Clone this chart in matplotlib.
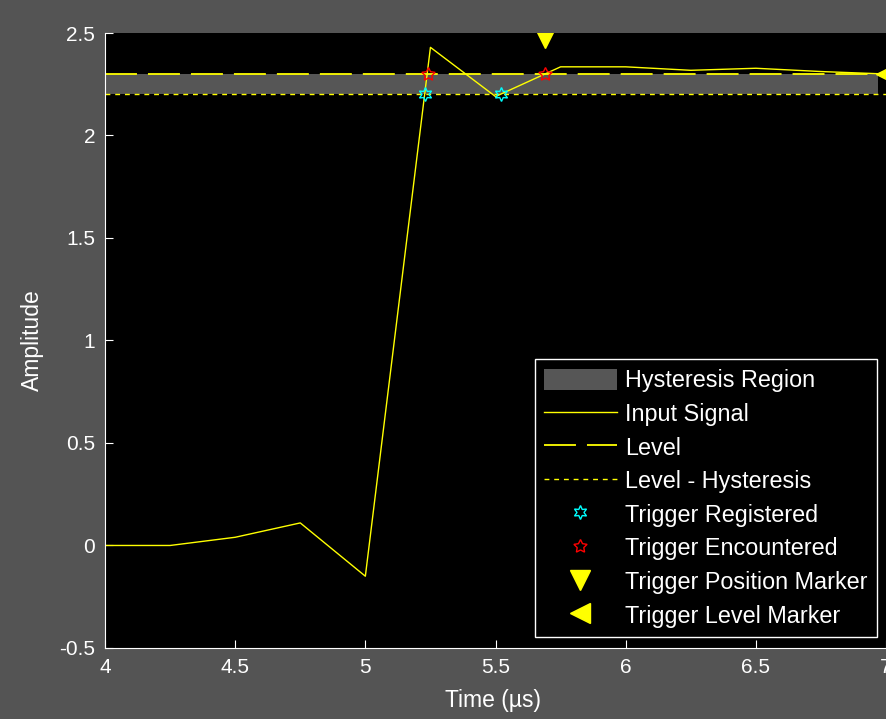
import matplotlib.pyplot as plt

plt.rcParams['font.family'] = ['Liberation Sans', 'DejaVu Sans']

# input signal samples (us, amplitude)
t = [4.0, 4.25, 4.5, 4.75, 5.0, 5.25, 5.5, 5.75, 6.0, 6.25, 6.5, 6.75, 7.0]
sig = [0.0, 0.0, 0.04, 0.11, -0.15, 2.43, 2.19, 2.335, 2.335, 2.318, 2.328, 2.312, 2.30]

level = 2.3
hyst = 0.1
band_x = [4.0, 6.97]

reg_t = [5.228, 5.52]
enc_t = [5.24, 5.69]
trig_pos = (5.69, 2.478)
trig_lvl = (7.0, 2.3)

xticks = [4, 4.5, 5, 5.5, 6, 6.5, 7]
xlabels = ['4', '4.5', '5', '5.5', '6', '6.5', '7']
yticks = [-0.5, 0, 0.5, 1, 1.5, 2, 2.5]
ylabels = ['-0.5', '0', '0.5', '1', '1.5', '2', '2.5']

fig = plt.figure(figsize=(8.87, 7.19), dpi=100, facecolor='#545454')
ax = fig.add_axes([0.1184, 0.0988, 0.8805, 0.8553])
ax.set_facecolor('black')

ax.fill_between(band_x, level - hyst, level, color='#565656', lw=0, label='Hysteresis Region')
ax.plot(t, sig, color='#ffff00', lw=1, label='Input Signal')
ax.plot([4, 7], [level, level], color='#ffff00', lw=1.3, dashes=(17.7, 6.1), label='Level')
ax.plot([4, 7], [level - hyst, level - hyst], color='#ffff00', lw=1, dashes=(3.5, 3.5), label='Level - Hysteresis')
ax.plot(reg_t, [level - hyst] * 2, ls='none', marker=(6, 1, 0), ms=10, mfc='none', mec='cyan', mew=1, label='Trigger Registered')
ax.plot(enc_t, [level] * 2, ls='none', marker=(5, 1, 0), ms=10, mfc='none', mec='red', mew=1, label='Trigger Encountered')
ax.plot([trig_pos[0]], [trig_pos[1]], ls='none', marker='v', ms=14, color='#ffff00', label='Trigger Position Marker')
ax.plot([trig_lvl[0]], [trig_lvl[1]], ls='none', marker='<', ms=14, color='#ffff00', clip_on=False, label='Trigger Level Marker')

ax.set_xlim(4, 7)
ax.set_ylim(-0.5, 2.5)
ax.set_xticks(xticks, xlabels)
ax.set_yticks(yticks, ylabels)
ax.tick_params(colors='white', direction='in', length=6, labelsize=15)
ax.tick_params(axis='y', pad=7)
ax.tick_params(axis='x', pad=7)
for s in ['top', 'right']:
    ax.spines[s].set_visible(False)
for s in ['left', 'bottom']:
    ax.spines[s].set_color('white')

ax.set_xlabel('Time (\u00b5s)', color='white', fontsize=16.5, va='center')
ax.set_ylabel('Amplitude', color='white', fontsize=16.5, va='center')
ax.xaxis.set_label_coords(0.497, -0.085)
ax.yaxis.set_label_coords(-0.093, 0.5)

leg = ax.legend(loc='lower right', fontsize=16.8, facecolor='black', edgecolor='white',
                framealpha=1, fancybox=False, handlelength=3.1, handleheight=1.05,
                handletextpad=0.35, borderpad=0.4, labelspacing=0.42, borderaxespad=0,
                bbox_to_anchor=(0.988, 0.018))
for txt in leg.get_texts():
    txt.set_color('white')

fig.savefig('out.png', dpi=100, facecolor=fig.get_facecolor())
